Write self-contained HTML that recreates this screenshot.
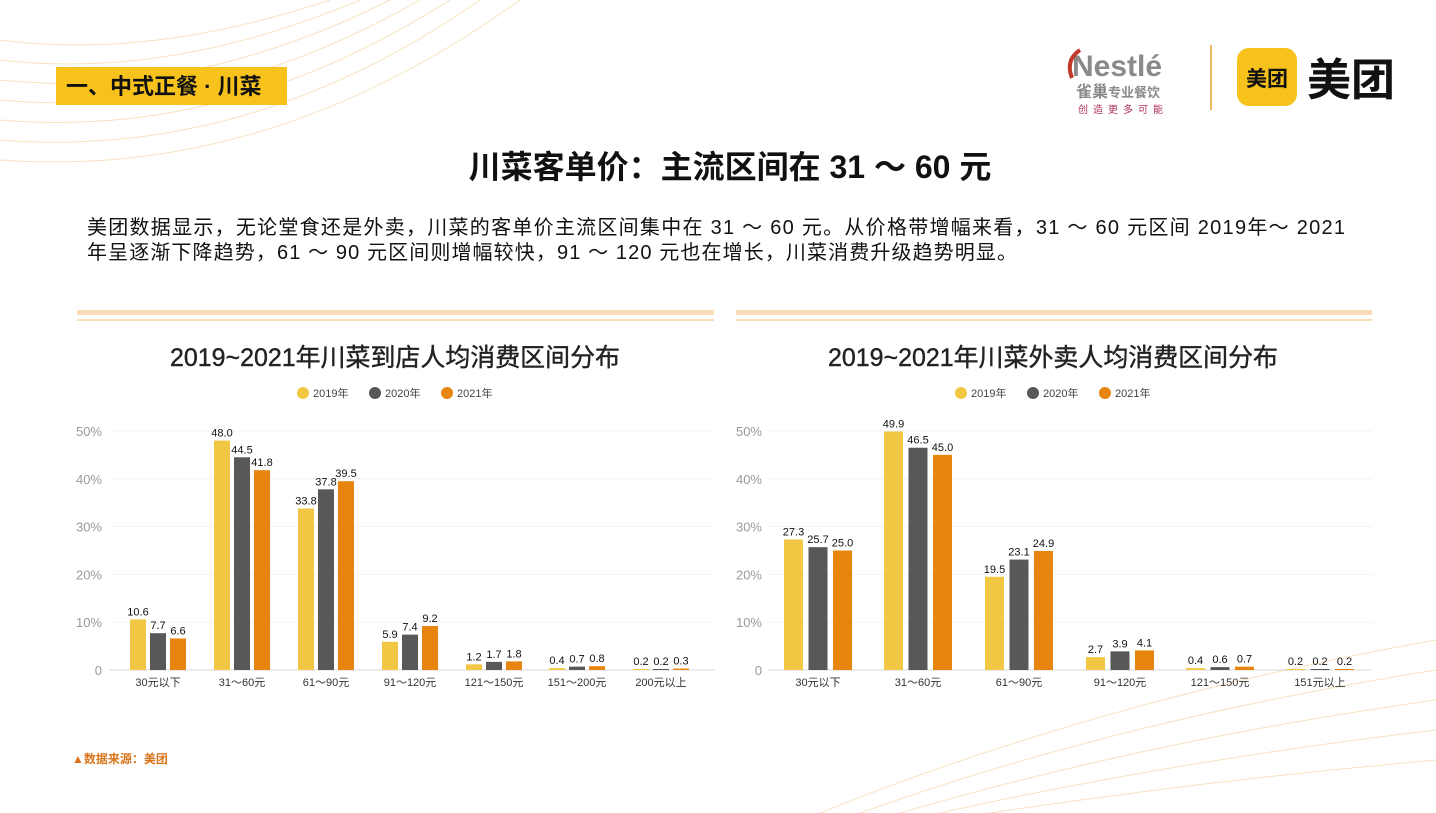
<!DOCTYPE html>
<html><head><meta charset="utf-8"><style>
html,body{margin:0;padding:0;background:#fff;}
svg{display:block;font-family:"Liberation Sans","Noto Sans CJK SC",sans-serif;}
</style></head><body>
<svg id="s" width="1436" height="813" viewBox="0 0 1436 813" xmlns="http://www.w3.org/2000/svg">
<rect width="1436" height="813" fill="#fff"/>
<g fill="none" stroke="#f8e2bf" stroke-width="1">
<path d="M0 40 Q150 60 330 0"/><path d="M0 60 Q170 80 360 0"/><path d="M0 80 Q190 100 390 0"/><path d="M0 100 Q210 120 420 0"/><path d="M0 120 Q230 140 450 0"/><path d="M0 140 Q250 160 480 0"/><path d="M0 160 Q270 180 520 0"/>
<path d="M820 813 Q1100 700 1436 640"/><path d="M860 813 Q1120 720 1436 670"/><path d="M900 813 Q1150 740 1436 700"/><path d="M940 813 Q1180 760 1436 730"/><path d="M990 813 Q1210 780 1436 760"/>
</g>
<rect x="56" y="67" width="231" height="38" fill="#f7c21b"/>
<text x="66" y="94" font-size="22" font-weight="bold" fill="#111">一、中式正餐 · 川菜</text>
<text x="1072" y="76" font-size="30" font-weight="bold" fill="#8a8a8a">Nestlé</text>
<path d="M1080 50 Q1065 60 1072 78" stroke="#c0392b" stroke-width="4" fill="none"/>
<text x="1076" y="97" font-size="16" font-weight="bold" fill="#8a8a8a">雀巢<tspan font-size="13">专业餐饮</tspan></text>
<text x="1078" y="113" font-size="10" fill="#b0305a" letter-spacing="5">创造更多可能</text>
<rect x="1210" y="45" width="2" height="65" fill="#f0b860"/>
<rect x="1237" y="48" width="60" height="58" rx="12" fill="#f7c21b"/>
<text x="1267" y="86" font-size="21" font-weight="bold" text-anchor="middle" fill="#111">美团</text>
<text x="1307" y="95" font-size="44" font-weight="bold" fill="#111">美团</text>
<text x="730" y="178" font-size="32" font-weight="bold" text-anchor="middle" fill="#111">川菜客单价：主流区间在 31 ～ 60 元</text>
<text x="87" y="234" font-size="20" fill="#111" textLength="1258" lengthAdjust="spacing">美团数据显示，无论堂食还是外卖，川菜的客单价主流区间集中在 31 ～ 60 元。从价格带增幅来看，31 ～ 60 元区间 2019年～ 2021</text>
<text x="87" y="259" font-size="20" fill="#111" textLength="930" lengthAdjust="spacing">年呈逐渐下降趋势，61 ～ 90 元区间则增幅较快，91 ～ 120 元也在增长，川菜消费升级趋势明显。</text>
<rect x="77" y="310" width="637" height="5" fill="#f9dcb8"/><rect x="77" y="319" width="637" height="2" fill="#f9dcb8"/>
<rect x="736" y="310" width="636" height="5" fill="#f9dcb8"/><rect x="736" y="319" width="636" height="2" fill="#f9dcb8"/>
<text x="395" y="366" font-size="25" text-anchor="middle" fill="#222" stroke="#222" stroke-width="0.4" textLength="450" lengthAdjust="spacingAndGlyphs">2019~2021年川菜到店人均消费区间分布</text>
<text x="1053" y="366" font-size="25" text-anchor="middle" fill="#222" stroke="#222" stroke-width="0.4" textLength="450" lengthAdjust="spacingAndGlyphs">2019~2021年川菜外卖人均消费区间分布</text>
<text x="72" y="763" font-size="12" font-weight="bold" fill="#d9731a">▲数据来源：美团</text>
<g id="g"></g>
</svg>
<script>
const g=document.getElementById('g');let h='';
const C=['#f2c744','#595757','#e8850f'],S=4.78,B=670;
function legend(cx){const xs=[cx-92,cx-20,cx+52],l=['2019年','2020年','2021年'];
 xs.forEach((x,i)=>{h+=`<circle cx="${x}" cy="393" r="6" fill="${C[i]}"/><text x="${x+10}" y="397" font-size="11" fill="#444">${l[i]}</text>`});}
function chart(x0,x1,lx,cs,cats,vals,bw,gap){
 for(let i=0;i<=5;i++){const y=B-i*10*S;h+=`<line x1="${x0}" x2="${x1}" y1="${y}" y2="${y}" stroke="${i?'#f3f3f3':'#d9d9d9'}"/>`;
  h+=`<text x="${lx}" y="${y+5}" font-size="13" text-anchor="end" fill="#999">${i?i*10+'%':'0'}</text>`;}
 cs.forEach((c,k)=>{h+=`<text x="${c}" y="686" font-size="11" text-anchor="middle" fill="#333">${cats[k]}</text>`;
  vals[k].forEach((v,j)=>{const x=c-(bw*1.5+gap)+j*(bw+gap),hh=Math.max(v*S,1);
   h+=`<rect x="${x}" y="${B-hh}" width="${bw}" height="${hh}" fill="${C[j]}"/>`;
   h+=`<text x="${x+bw/2}" y="${B-hh-4}" font-size="11" text-anchor="middle" fill="#111">${v.toFixed(1)}</text>`;});});}
legend(395);legend(1053);
chart(110,715,102,[158,242,326,410,494,577,661],['30元以下','31～60元','61～90元','91～120元','121～150元','151～200元','200元以上'],
[[10.6,7.7,6.6],[48,44.5,41.8],[33.8,37.8,39.5],[5.9,7.4,9.2],[1.2,1.7,1.8],[0.4,0.7,0.8],[0.2,0.2,0.3]],16,4);
chart(768,1372,762,[818,918,1019,1120,1220,1320],['30元以下','31～60元','61～90元','91～120元','121～150元','151元以上'],
[[27.3,25.7,25],[49.9,46.5,45],[19.5,23.1,24.9],[2.7,3.9,4.1],[0.4,0.6,0.7],[0.2,0.2,0.2]],19,5.5);
g.innerHTML=h;
</script>
</body></html>
